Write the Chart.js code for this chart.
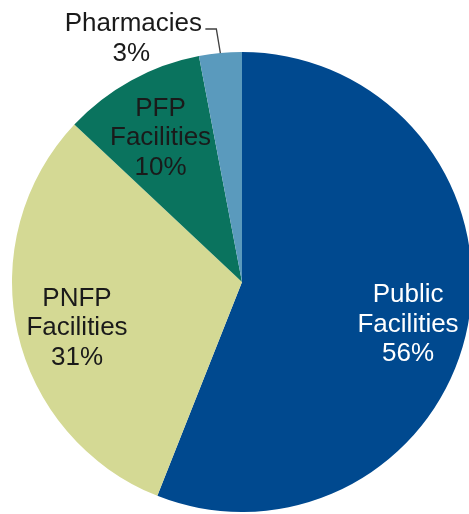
<!DOCTYPE html>
<html>
<head>
<meta charset="utf-8">
<script src="https://cdn.jsdelivr.net/npm/chart.js@4"></script>
<style>
  html, body { margin: 0; padding: 0; background: #fff; overflow: hidden; width: 469px; height: 514px; }
  canvas { display: block; }
</style>
</head>
<body>
<canvas id="grafico" width="480" height="520"></canvas>
<script>
const categorias = ['Public Facilities', 'PNFP Facilities', 'PFP Facilities', 'Pharmacies'];
const linhas = [['Public', 'Facilities'], ['PNFP', 'Facilities'], ['PFP', 'Facilities'], ['Pharmacies']];
const valores = [56, 31, 10, 3];
const cores = ['#00498f', '#d4d994', '#0a735e', '#5a9abd'];
const coresTexto = ['#ffffff', '#1a1a1a', '#1a1a1a', '#1a1a1a'];
const ajusteY = [11, 9, 4, 0];

// desenha os rótulos dentro das fatias (e com linha guia para as pequenas)
const rotulos = {
  id: 'rotulos',
  afterDatasetsDraw(chart) {
    const ctx = chart.ctx;
    const meta = chart.getDatasetMeta(0);
    const total = valores.reduce((a, b) => a + b, 0);
    ctx.save();
    ctx.font = '26px "Liberation Sans", Arial, sans-serif';
    ctx.textAlign = 'center';
    ctx.textBaseline = 'middle';
    meta.data.forEach((arco, i) => {
      const p = arco.getProps(['x', 'y', 'startAngle', 'endAngle', 'outerRadius'], true);
      const meio = (p.startAngle + p.endAngle) / 2;
      const pct = Math.round(valores[i] / total * 100) + '%';
      const texto = linhas[i].concat([pct]);
      if (valores[i] / total >= 0.05) {
        const r = p.outerRadius * 0.735;
        const cx = p.x + Math.cos(meio) * r;
        const cy = p.y + Math.sin(meio) * r + ajusteY[i];
        ctx.fillStyle = coresTexto[i];
        texto.forEach((t, k) => {
          ctx.fillText(t, cx, cy + (k - (texto.length - 1) / 2) * 29.5);
        });
      } else {
        // linha guia
        const ex = p.x + Math.cos(meio) * p.outerRadius;
        const ey = p.y + Math.sin(meio) * p.outerRadius;
        ctx.strokeStyle = '#404040';
        ctx.lineWidth = 1.3;
        ctx.beginPath();
        ctx.moveTo(ex, ey);
        ctx.lineTo(ex - 4, ey - 24);
        ctx.lineTo(ex - 15, ey - 24);
        ctx.stroke();
        ctx.fillStyle = coresTexto[i];
        ctx.fillText(texto[0], ex - 87, ey - 29);
        ctx.fillText(texto[1], ex - 89, ey + 1);
      }
    });
    ctx.restore();
  }
};

new Chart(document.getElementById('grafico'), {
  type: 'pie',
  data: {
    labels: categorias,
    datasets: [{
      data: valores,
      backgroundColor: cores,
      borderWidth: 0
    }]
  },
  options: {
    responsive: false,
    animation: false,
    layout: { padding: { left: 12, top: 52, right: 8, bottom: 8 } },
    plugins: {
      legend: { display: false },
      tooltip: { enabled: false }
    }
  },
  plugins: [rotulos]
});
</script>
</body>
</html>
